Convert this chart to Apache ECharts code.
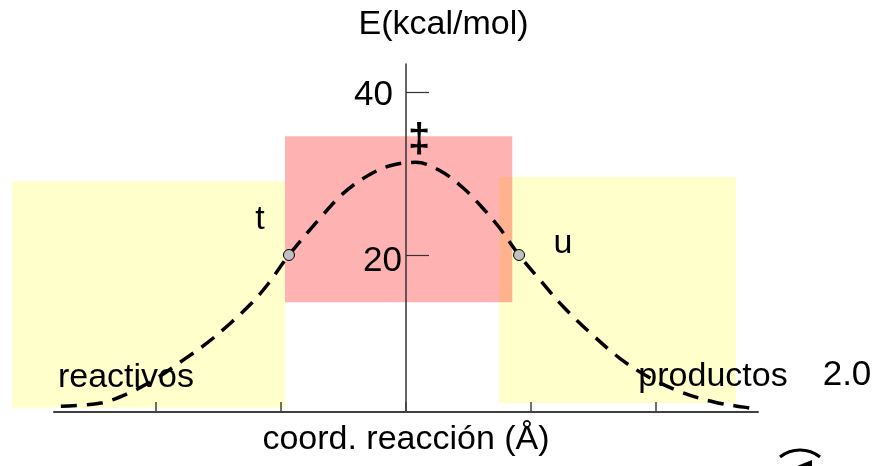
<!DOCTYPE html>
<html>
<head>
<meta charset="utf-8">
<title>Perfil de energía</title>
<script src="https://cdn.jsdelivr.net/npm/echarts@6/dist/echarts.min.js"></script>
<style>
  html, body { margin: 0; padding: 0; background: #ffffff; }
  #chart { width: 876px; height: 466px; }
</style>
</head>
<body>
<div id="chart"></div>
<script>
// Reaction coordinate (Å, centred on the transition state) and energy (kcal/mol)
const curveX = [-2.76, -2.44, -2.22, -2.00, -1.78, -1.59, -1.42, -1.24, -1.10, -0.936,
                -0.70, -0.50, -0.30, -0.12, 0.08, 0.28, 0.46, 0.60, 0.74, 0.904,
                1.09, 1.26, 1.49, 1.71, 1.94, 2.21, 2.47, 2.70, 2.80];
const curveE = [1.4, 1.8, 3.0, 4.8, 7.1, 9.2, 11.4, 14.0, 16.5, 20.0,
                24.3, 27.6, 29.8, 31.0, 31.4, 30.3, 28.2, 26.0, 23.5, 20.0,
                16.6, 13.6, 10.2, 7.3, 5.0, 3.1, 1.9, 1.3, 1.1];

// Marked points on the curve
const pointNames = ['t', 'u'];
const pointX = [-0.936, 0.904];
const pointE = [20.0, 20.0];

// Shaded regions: reactivos, estado de transición, productos
const regionX0 = [-3.15, -0.968, 0.744];
const regionX1 = [-0.968, 0.85, 2.64];
const regionE0 = [1.23, 14.2, 1.77];
const regionE1 = [29.1, 34.6, 29.6];

// Axis ticks
const xTicks = [-2, -1, 0, 1, 2];
const yTicks = [20, 40];

const X_MIN = -2.815;
const X_MAX = 2.815;

const regionFill = ['#ffffcc', 'rgba(255, 0, 0, 0.30)', '#ffffcc'];
const regionOrder = [0, 2, 1]; // the red band is painted over both yellow bands

const FONT = 'Liberation Sans, Arial, sans-serif';
const GRID = { left: 54, right: 118, top: 64, bottom: 54 };
const chart = echarts.init(document.getElementById('chart'), null, { renderer: 'canvas' });

// the energy axis stands at reaction coordinate 0
const plotWidth = 876 - GRID.left - GRID.right;
const yAxisOffset = -plotWidth * (0 - X_MIN) / (X_MAX - X_MIN);

const regionData = regionOrder.map(i => [regionX0[i], regionX1[i], regionE0[i], regionE1[i], i]);

chart.setOption({
  animation: false,
  backgroundColor: '#ffffff',
  grid: GRID,
  xAxis: {
    type: 'value',
    min: X_MIN,
    max: X_MAX,
    z: 4,
    name: 'coord. reacción (Å)',
    nameLocation: 'middle',
    nameGap: 11,
    nameTextStyle: { fontFamily: FONT, fontSize: 34, color: '#000' },
    axisLine: { onZero: false, lineStyle: { color: '#404040', width: 2 } },
    axisTick: { inside: true, length: 10, customValues: xTicks, lineStyle: { color: '#404040', width: 1.5 } },
    axisLabel: { show: false },
    splitLine: { show: false }
  },
  yAxis: {
    type: 'value',
    min: 0.7,
    max: 43.48,
    z: 4,
    offset: yAxisOffset,
    name: 'E(kcal/mol)',
    nameLocation: 'end',
    nameGap: 22,
    nameTextStyle: { fontFamily: FONT, fontSize: 34, color: '#000', padding: [0, 0, 0, 75] },
    axisLine: { onZero: false, lineStyle: { color: '#333', width: 1.5 } },
    axisTick: { inside: true, length: 23, customValues: yTicks, lineStyle: { color: '#333', width: 1.2 } },
    axisLabel: {
      customValues: yTicks,
      fontFamily: FONT,
      fontSize: 35,
      color: '#000',
      margin: 4,
      formatter: function (v) { return v === 40 ? '{hi|' + v + '}' : '{lo|' + v + '}'; },
      rich: {
        hi: { fontFamily: FONT, fontSize: 35, color: '#000', padding: [6, 9, 0, 0] },
        lo: { fontFamily: FONT, fontSize: 35, color: '#000', padding: [13, 0, 0, 0] }
      }
    },
    splitLine: { show: false }
  },
  series: [
    {
      type: 'custom',
      z: 0,
      clip: false,
      silent: true,
      data: regionData,
      encode: { x: [0, 1], y: [2, 3] },
      renderItem: function (params, api) {
        const p0 = api.coord([api.value(0), api.value(3)]);
        const p1 = api.coord([api.value(1), api.value(2)]);
        return {
          type: 'rect',
          shape: { x: p0[0], y: p0[1], width: p1[0] - p0[0], height: p1[1] - p0[1] },
          style: { fill: regionFill[api.value(4)] }
        };
      }
    },
    {
      type: 'line',
      z: 3,
      data: curveX.map((x, i) => [x, curveE[i]]),
      smooth: 0.35,
      showSymbol: false,
      symbol: 'none',
      lineStyle: { color: '#000', width: 3.5, type: [16, 10] }
    },
    {
      type: 'scatter',
      z: 5,
      data: pointX.map((x, i) => ({ name: pointNames[i], value: [x, pointE[i]] })),
      symbol: 'circle',
      symbolSize: 11,
      itemStyle: { color: '#c0c0c0', borderColor: '#000', borderWidth: 1, opacity: 1 },
      label: {
        show: true,
        formatter: '{b}',
        fontFamily: FONT,
        fontSize: 34,
        color: '#000',
        opacity: 1,
        textBorderWidth: 0,
        position: 'inside'
      },
      labelLayout: function (params) {
        const off = params.dataIndex === 0 ? [-29, -35] : [44, -11];
        return { x: params.rect.x + params.rect.width / 2 + off[0], y: params.rect.y + params.rect.height / 2 + off[1], align: 'center', verticalAlign: 'middle' };
      }
    }
  ],
  graphic: {
    elements: [
      { type: 'text', z: 1, x: 126, y: 378, style: { text: 'reactivos', font: '34px ' + FONT, fill: '#000', align: 'center', verticalAlign: 'middle' } },
      { type: 'text', z: 1, x: 713, y: 377, style: { text: 'productos', font: '34px ' + FONT, fill: '#000', align: 'center', verticalAlign: 'middle' } },
      { type: 'text', z: 1, x: 847, y: 375, style: { text: '2.0', font: '35px ' + FONT, fill: '#000', align: 'center', verticalAlign: 'middle' } },
      { type: 'text', z: 6, x: 419, y: 141, style: { text: '‡', font: 'bold 40px ' + FONT, fill: '#000', align: 'center', verticalAlign: 'middle' } },
      { type: 'arc', z: 6, shape: { cx: 800, cy: 482, r: 32, startAngle: -2.245, endAngle: -0.896, clockwise: true }, style: { stroke: '#000', lineWidth: 3, fill: null } },
      { type: 'polygon', z: 6, shape: { points: [[797, 466], [812, 460], [812, 466]] }, style: { fill: '#000' } }
    ]
  }
});
</script>
</body>
</html>
